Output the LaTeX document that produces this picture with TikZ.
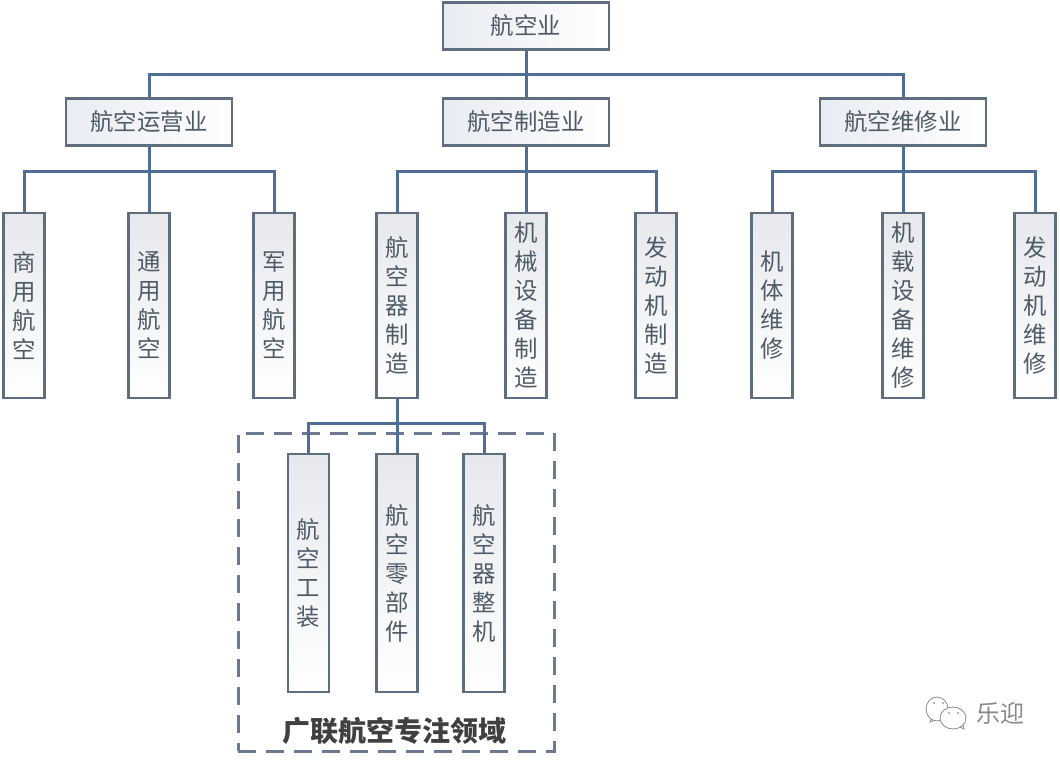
\documentclass[tikz,border=0pt]{standalone}
\usepackage{fontspec}
\setmainfont{Noto Sans CJK SC}
\definecolor{boxline}{HTML}{5E6E7E}
\definecolor{wire}{HTML}{4F6E96}
\definecolor{txt}{HTML}{4E5A66}
\definecolor{shadeh}{HTML}{E8EBF1}
\definecolor{shadev}{HTML}{E6E8EC}
\definecolor{dashc}{HTML}{6B7A90}
\definecolor{logo}{HTML}{8A8A8A}
\tikzset{
  x=1pt,y=-1pt,
  hbox/.style={draw=boxline,line width=2.2pt,left color=shadeh,right color=white,
    minimum width=166pt,minimum height=47pt,inner sep=0pt,text=txt,
    font=\fontsize{23.4}{29}\selectfont},
  vbox/.style={draw=boxline,line width=2.2pt,top color=shadev,bottom color=white,
    minimum width=41pt,inner sep=0pt,align=center,text=txt,
    font=\fontsize{23.4}{29}\selectfont},
  wirel/.style={draw=wire,line width=3pt},
  focus/.style={draw=dashc,line width=3pt,dash pattern=on 18pt off 10pt,
    minimum width=316pt,minimum height=318pt,inner sep=0pt},
}
\begin{document}
\begin{tikzpicture}
\useasboundingbox (0,0) rectangle (1060,760);
\coordinate (bus0) at (526,75);
\coordinate (busA) at (149,171);
\coordinate (busB) at (526,171);
\coordinate (busC) at (903,171);
\coordinate (busD) at (397,423);
\node[focus] (focusbox) at (396,592) {};
\node[hbox] (root) at (526,26) {航空业};
\node[hbox] (opr) at (149,122) {航空运营业};
\node[hbox] (mfg) at (526,122) {航空制造业};
\node[hbox] (mro) at (903,122) {航空维修业};
\node[vbox,minimum height=185pt] (a1) at (24,305.5) {商\\用\\航\\空};
\node[vbox,minimum height=185pt] (a2) at (149,305.5) {通\\用\\航\\空};
\node[vbox,minimum height=185pt] (a3) at (274,305.5) {军\\用\\航\\空};
\node[vbox,minimum height=185pt] (b1) at (397,305.5) {航\\空\\器\\制\\造};
\node[vbox,minimum height=185pt] (b2) at (526,305.5) {机\\械\\设\\备\\制\\造};
\node[vbox,minimum height=185pt] (b3) at (656,305.5) {发\\动\\机\\制\\造};
\node[vbox,minimum height=185pt] (c1) at (772,305.5) {机\\体\\维\\修};
\node[vbox,minimum height=185pt] (c2) at (903,305.5) {机\\载\\设\\备\\维\\修};
\node[vbox,minimum height=185pt] (c3) at (1035,305.5) {发\\动\\机\\维\\修};
\node[vbox,minimum height=238pt] (d1) at (308.5,573) {航\\空\\工\\装};
\node[vbox,minimum height=238pt] (d2) at (397,573) {航\\空\\零\\部\\件};
\node[vbox,minimum height=238pt] (d3) at (484,573) {航\\空\\器\\整\\机};
\draw[wirel] (root.south) -- (mfg.north);
\draw[wirel] (opr.north) |- (bus0) -| (mro.north);
\draw[wirel] (opr.south) -- (a2.north);
\draw[wirel] (a1.north) |- (busA) -| (a3.north);
\draw[wirel] (mfg.south) -- (b2.north);
\draw[wirel] (b1.north) |- (busB) -| (b3.north);
\draw[wirel] (mro.south) -- (c2.north);
\draw[wirel] (c1.north) |- (busC) -| (c3.north);
\draw[wirel] (b1.south) -- (d2.north);
\draw[wirel] (d1.north) |- (busD) -| (d3.north);
\node[text=black!75,font=\fontsize{28}{30}\selectfont\bfseries] (focuslabel) at (394,731) {广联航空专注领域};
% watermark
\draw[logo,line width=.8pt,fill=white] (937,709) ellipse (11pt and 12pt);
\draw[logo,line width=.8pt] (931,719) -- (930,722) -- (935,720);
\fill[logo] (934,703) circle (1pt) (943,703) circle (1pt);
\draw[logo,line width=.8pt,fill=white] (953,718) ellipse (13pt and 11pt);
\draw[logo,line width=.8pt] (960,727) -- (964,729) -- (963,725);
\fill[logo] (949,713) circle (1pt) (958,713) circle (1pt);
\node[text=logo,font=\fontsize{24}{26}\selectfont] (mark) at (1000,713) {乐迎};
\end{tikzpicture}
\end{document}
